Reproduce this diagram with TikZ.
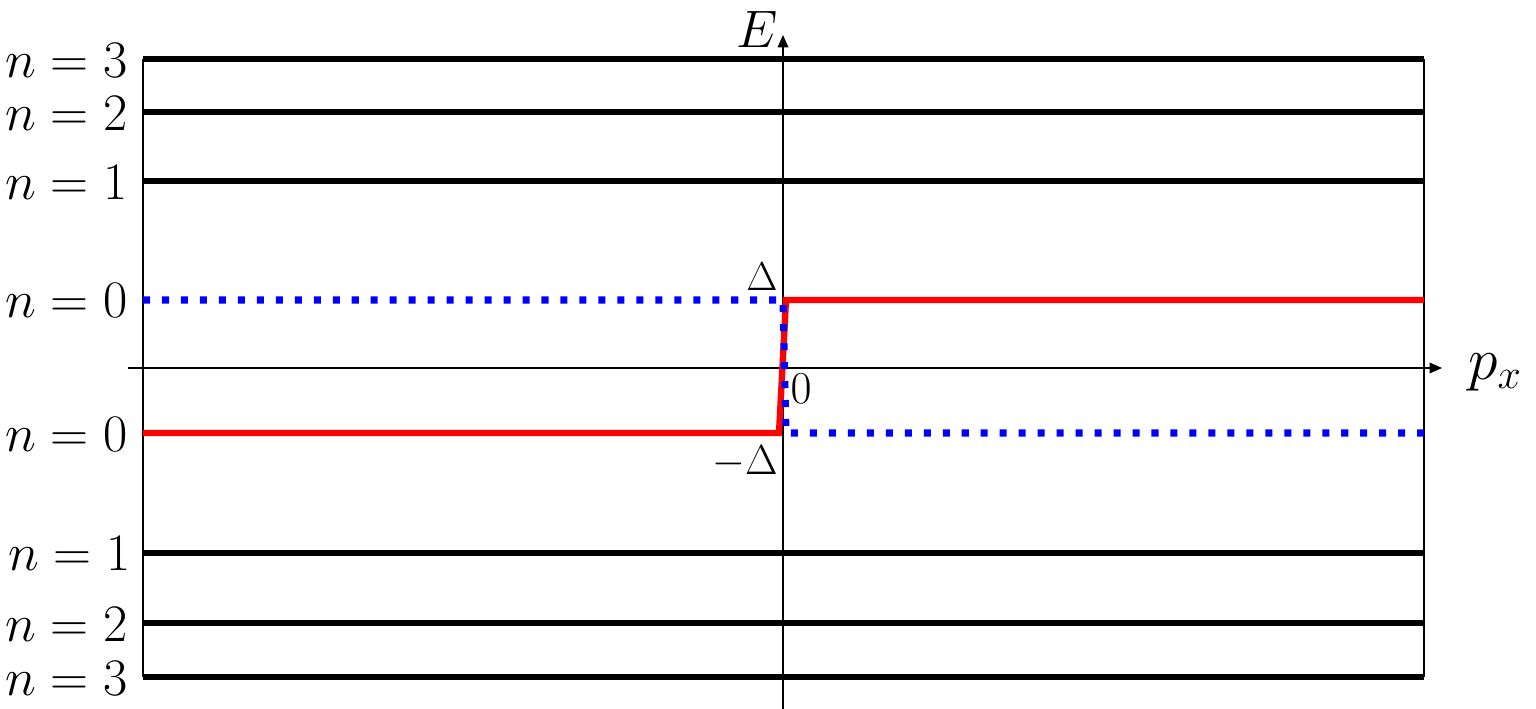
\documentclass[tikz,border=0pt]{standalone}
\usepackage{fix-cm}
\usetikzlibrary{arrows.meta}

\tikzset{
    level/.style={line width=3.5pt},
    band/.style={line width=3.6pt, red},
    bandb/.style={line width=4pt, blue, dash pattern=on 4pt off 6.8pt},
    axis/.style={line width=0.9pt, -{Triangle[length=7pt,width=6pt]}},
    lbl/.style={anchor=east, inner sep=0pt, font=\fontsize{30}{34}\selectfont}
}

\begin{document}
\begin{tikzpicture}[x=0.02cm, y=-0.02cm]
        \useasboundingbox (0,0) rectangle (1536,709);
        %\draw[gray, dashed] (0,0) grid[step=100] (1536,709);

        % frame
        \draw[line width=0.6pt] (143,59) -- (143,677);
        \draw[line width=0.6pt] (1424,59) -- (1424,677);

        % axes
        \coordinate (pxs) at (128,368);
        \coordinate (pxe) at (1442,368);
        \coordinate (es) at (783,709);
        \coordinate (ee) at (783,35);
        \draw[axis] (pxs) -- (pxe);
        \draw[axis] (es) -- (ee);
        \node[inner sep=0pt, font=\fontsize{30}{34}\selectfont] (E) at (757,29) {$E$};
        \node[inner sep=0pt, font=\fontsize{34}{38}\selectfont] (px) at (1495,372) {$p_x$};

        % levels above
        \draw[level] (143,59) -- (1424,59);
        \draw[level] (143,112) -- (1424,112);
        \draw[level] (143,181) -- (1424,181);
        \node[lbl] (u3) at (128,61) {$n=3$};
        \node[lbl] (u2) at (128,114) {$n=2$};
        \node[lbl] (u1) at (128,183) {$n=1$};

        % levels below
        \draw[level] (143,553) -- (1424,553);
        \draw[level] (143,623) -- (1424,623);
        \draw[level] (143,677) -- (1424,677);
        \node[lbl] (d1) at (131,554) {$n=1$};
        \node[lbl] (d2) at (128,625) {$n=2$};
        \node[lbl] (d3) at (128,679) {$n=3$};

        % zero modes
        \node[lbl] (u0) at (128,301) {$n=0$};
        \node[lbl] (d0) at (128,435) {$n=0$};
        \draw[band] (143,433) -- (779,433) -- (786,300) -- (1424,300);
        \draw[bandb] (143,300) -- (783,300) -- (786,433) -- (1424,433);

        \node[inner sep=0pt, font=\fontsize{23}{27}\selectfont] (gap) at (762,277) {$\Delta$};
        \node[inner sep=0pt, font=\fontsize{24}{28}\selectfont] (mgap) at (745,462) {$-\Delta$};
        \node[inner sep=0pt, font=\fontsize{26}{30}\selectfont] (zero) at (801,389) {$0$};
\end{tikzpicture}
\end{document}
